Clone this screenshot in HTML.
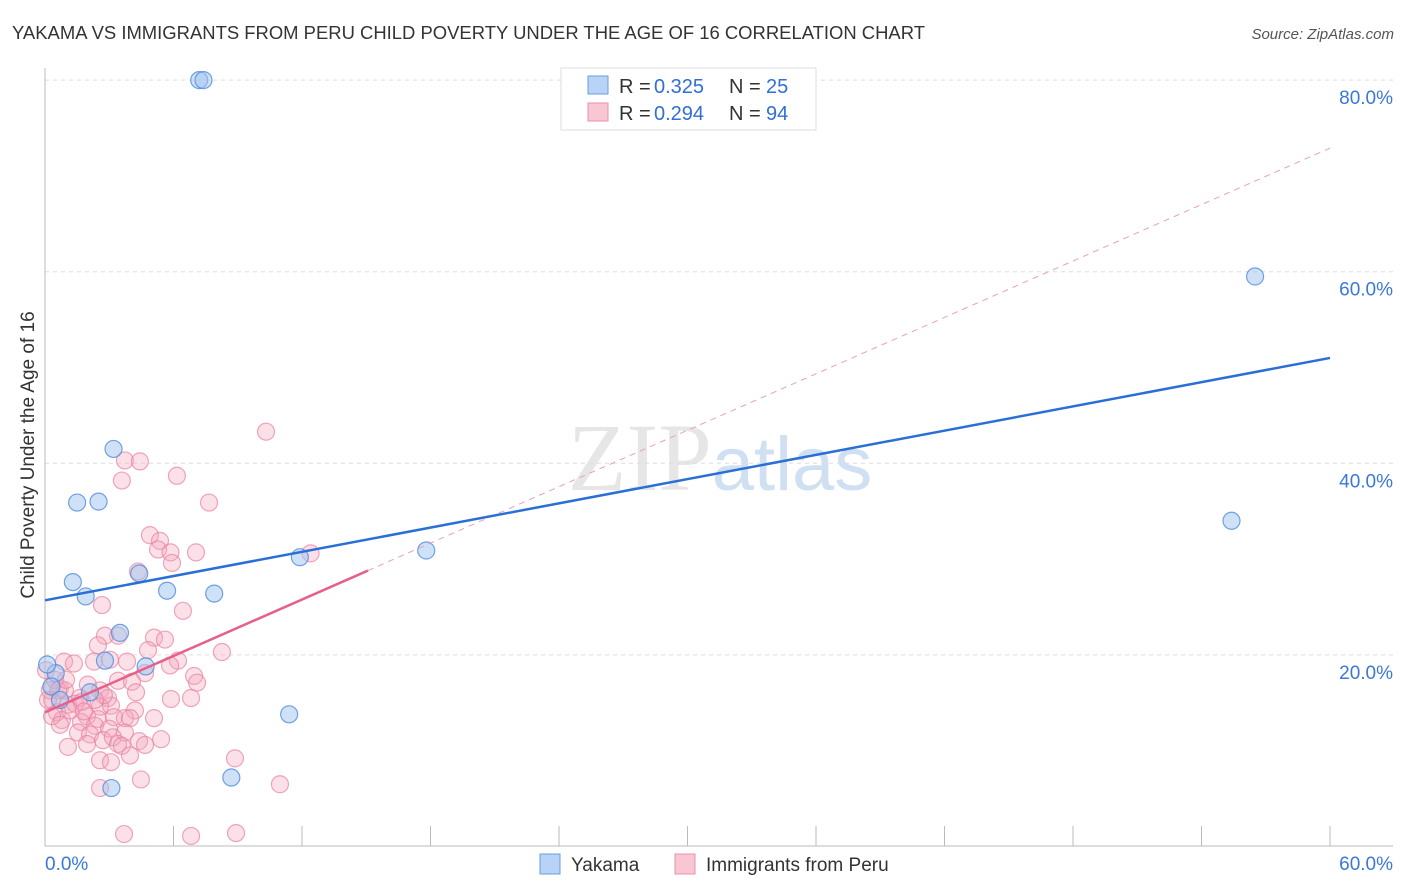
<!DOCTYPE html>
<html><head><meta charset="utf-8"><style>
body{margin:0;background:#fff;font-family:"Liberation Sans",sans-serif;}
svg{display:block}
</style></head><body>
<svg id="chart" width="1406" height="892">
<text x="12" y="39" font-size="18" fill="#333" textLength="913" lengthAdjust="spacingAndGlyphs">YAKAMA VS IMMIGRANTS FROM PERU CHILD POVERTY UNDER THE AGE OF 16 CORRELATION CHART</text>
<text x="1394" y="39" font-size="15" fill="#555" font-style="italic" text-anchor="end">Source: ZipAtlas.com</text>
<text x="720" y="490" font-size="96" fill="#e6e6e6" text-anchor="middle" font-family="Liberation Serif,serif">ZIP<tspan fill="#cfe0f3" font-family="Liberation Sans,sans-serif" font-size="76">atlas</tspan></text>
<g id="grid"></g>
<g id="axes"></g>
<g id="pts"></g>
<g id="lines"></g>
<text transform="translate(34,455) rotate(-90)" font-size="19" fill="#333" text-anchor="middle">Child Poverty Under the Age of 16</text>
<g>
<rect x="561" y="68" width="255" height="62" fill="#fff" stroke="#ddd"/>
<rect x="588" y="76" width="20" height="18" fill="#b8d3f5" stroke="#6a9de0"/>
<rect x="588" y="103" width="20" height="18" fill="#f9c6d4" stroke="#e890aa"/>
<text x="619" y="93" font-size="20" fill="#333">R =</text>
<text x="654" y="93" font-size="20" fill="#2f6fd6">0.325</text>
<text x="729" y="93" font-size="20" fill="#333">N =</text>
<text x="766" y="93" font-size="20" fill="#2f6fd6">25</text>
<text x="619" y="120" font-size="20" fill="#333">R =</text>
<text x="654" y="120" font-size="20" fill="#2f6fd6">0.294</text>
<text x="729" y="120" font-size="20" fill="#333">N =</text>
<text x="766" y="120" font-size="20" fill="#2f6fd6">94</text>
</g>
<g>
<rect x="540" y="854" width="20" height="20" fill="#b8d3f5" stroke="#6a9de0"/>
<text x="571" y="871" font-size="19" fill="#333">Yakama</text>
<rect x="675" y="854" width="20" height="20" fill="#f9c6d4" stroke="#e890aa"/>
<text x="706" y="871" font-size="19" fill="#333">Immigrants from Peru</text>
</g>
</svg>
<script>
const blueX=[7.2,7.4,56.5,3.2,1.5,2.5,55.4,17.8,11.9,1.3,4.4,1.9,5.7,7.9,3.5,2.8,4.7,0.5,2.1,0.3,11.4,8.7,3.1,0.7,0.1];
const blueY=[80,80,59.5,41.5,35.9,36.0,34.0,30.9,30.2,27.6,28.5,26.1,26.7,26.4,22.3,19.4,18.8,18.1,16.1,16.7,13.8,7.2,6.1,15.3,19.0];
const pinkX=[10.32,3.73,4.43,3.59,6.16,7.66,4.9,5.37,5.28,5.86,7.05,5.93,12.4,4.34,2.66,6.44,3.41,2.8,5.09,5.6,2.47,4.81,8.26,0.89,2.29,3.83,6.21,3.03,4.67,6.96,7.1,3.41,4.06,2.0,2.57,4.25,0.7,5.88,6.82,2.94,1.63,0.33,1.07,1.4,2.57,0.56,3.08,4.2,1.96,2.47,3.22,3.73,0.79,1.68,2.33,3.97,5.09,2.99,1.54,2.1,3.73,2.71,3.17,4.39,5.42,4.67,1.96,3.41,1.07,3.59,2.57,3.08,3.97,8.87,4.48,2.57,10.97,3.69,6.82,8.92,0.05,0.23,0.47,0.14,0.93,1.17,0.61,1.73,2.75,0.98,0.33,2.33,0.7,1.82,1.35,5.84];
const pinkY=[43.3,40.3,40.2,38.2,38.7,35.9,32.5,31.9,31.0,30.7,30.7,29.6,30.6,28.7,25.2,24.6,22.0,22.0,21.8,21.6,21.0,20.5,20.3,19.3,19.3,19.3,19.4,19.5,18.1,17.8,17.1,17.3,17.2,16.9,16.3,16.1,16.5,15.4,15.5,15.5,15.5,15.3,14.8,14.9,14.6,14.0,14.7,14.2,13.6,13.3,13.5,13.4,13.2,13.0,12.6,13.4,13.4,12.3,11.9,11.7,11.9,11.1,11.4,11.0,11.2,10.6,10.7,10.7,10.4,10.5,9.0,8.8,9.5,9.2,7.0,6.1,6.5,1.3,1.1,1.4,18.4,16.3,17.4,15.3,16.3,14.2,16.3,15.1,15.8,17.4,13.6,15.3,12.7,14.1,19.1,18.9];
const yTicks=[20,40,60,80];
const yTickLabels=["20.0%","40.0%","60.0%","80.0%"];
const blueLine=[25.7,51.0];
const pinkLine=[14.0,72.9];
const pinkSolidEnd=15.08;
const NS="http://www.w3.org/2000/svg";
const sx=v=>45+v*21.417, sy=v=>846.5-v*9.58;
function mk(t,a,p){const e=document.createElementNS(NS,t);for(const k in a)e.setAttribute(k,a[k]);p.appendChild(e);return e;}
const grid=document.getElementById('grid'),axes=document.getElementById('axes'),pts=document.getElementById('pts'),lines=document.getElementById('lines');
yTicks.forEach((t,i)=>{
 const l=mk('line',{x1:45,x2:1393,y1:sy(t),y2:sy(t),stroke:'#ddd','stroke-dasharray':'4,4'},grid);
 
 
 const tx=mk('text',{x:1393,y:sy(t)+24,'font-size':19,fill:'#3a78d8','text-anchor':'end'},grid);
 tx.textContent=yTickLabels[i];
 
 
});
mk('line',{x1:45,x2:45,y1:68,y2:846,stroke:'#bbb'},axes);
mk('line',{x1:45,x2:1393,y1:846,y2:846,stroke:'#bbb'},axes);
for(let i=0;i<=10;i++){const t=mk('line',{x1:sx(i*6),x2:sx(i*6),y1:826,y2:846,stroke:'#bbb'},axes);
 
 }
const x0=mk('text',{x:45,y:870,'font-size':19,fill:'#3a78d8'},axes);x0.textContent='0.0%';


const x1=mk('text',{x:1393,y:870,'font-size':19,fill:'#3a78d8','text-anchor':'end'},axes);x1.textContent='60.0%';


pinkX.forEach((x,i)=>{const c=mk('circle',{cx:sx(x),cy:sy(pinkY[i]),r:8.5,fill:'rgba(244,165,188,0.35)',stroke:'rgba(232,130,160,0.7)','stroke-width':1.2},pts);
 
 });
blueX.forEach((x,i)=>{const c=mk('circle',{cx:sx(x),cy:sy(blueY[i]),r:8.5,fill:'rgba(160,196,240,0.5)',stroke:'rgba(80,140,220,0.8)','stroke-width':1.2},pts);
 
 });
const pl=v=>pinkLine[0]+(pinkLine[1]-pinkLine[0])*v/60;
const pd=mk('line',{x1:sx(pinkSolidEnd),y1:sy(pl(pinkSolidEnd)),x2:sx(60),y2:sy(pinkLine[1]),stroke:'#e8a0b8','stroke-dasharray':'6,5','stroke-width':1},lines);


const ps=mk('line',{x1:sx(0),y1:sy(pinkLine[0]),x2:sx(pinkSolidEnd),y2:sy(pl(pinkSolidEnd)),stroke:'#e6608a','stroke-width':2.5},lines);


const bl=mk('line',{x1:sx(0),y1:sy(blueLine[0]),x2:sx(60),y2:sy(blueLine[1]),stroke:'#2a6fd6','stroke-width':2.5},lines);


</script>
</body></html>
